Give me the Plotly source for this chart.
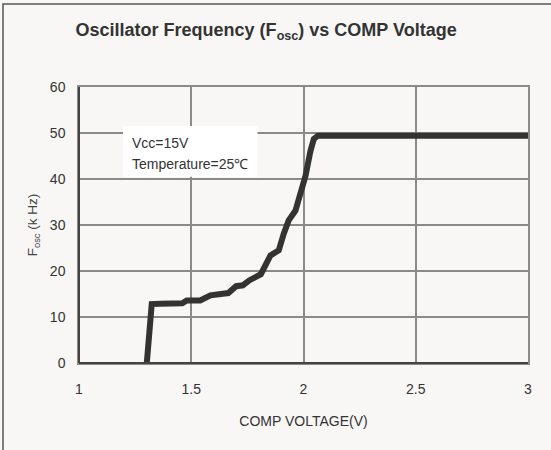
import plotly.graph_objects as go

comp_voltage = [1.302, 1.312, 1.320, 1.324, 1.36, 1.40, 1.46, 1.48, 1.54, 1.585, 1.615, 1.665,
                1.70, 1.73, 1.76, 1.81, 1.853, 1.89, 1.912, 1.934, 1.964, 1.987, 2.009,
                2.031, 2.046, 2.064, 3.0]
fosc_khz = [0.0, 6.5, 12.5, 12.8, 12.9, 13.0, 13.0, 13.6, 13.6, 14.7, 14.9, 15.2,
            16.7, 16.9, 18.0, 19.3, 23.4, 24.5, 28.1, 31.0, 33.1, 36.8, 40.7,
            46.1, 48.7, 49.4, 49.4]

x_ticks = [1, 1.5, 2, 2.5, 3]
x_tick_labels = ["1", "1.5", "2", "2.5", "3"]
y_ticks = [0, 10, 20, 30, 40, 50, 60]

title_text = "Oscillator Frequency (F<sub>osc</sub>) vs COMP Voltage"
x_title = "COMP VOLTAGE(V)"
y_title = "F<sub>osc</sub> (k Hz)"
note_lines = ["Vcc=15V", "Temperature=25℃"]

FONT = "Liberation Sans, Arial, sans-serif"
TXT = "#333333"
BG = "#f8f7f5"

fig = go.Figure()
fig.add_trace(go.Scatter(x=comp_voltage, y=fosc_khz, mode="lines",
                         line=dict(color="#333333", width=6), showlegend=False,
                         hoverinfo="skip"))

fig.update_layout(
    width=551, height=450,
    margin=dict(l=79, r=23, t=87, b=87),
    paper_bgcolor=BG, plot_bgcolor=BG,
    font=dict(family=FONT, color=TXT, size=13),
    title=dict(text=title_text, x=0.483, xref="container", xanchor="center",
               y=1 - 30 / 450, yref="container", yanchor="middle",
               font=dict(family=FONT, size=18, color=TXT, weight="bold")),
    xaxis=dict(range=[1, 3], tickvals=x_ticks, ticktext=x_tick_labels,
               showgrid=True, gridcolor="#8a8a8a", gridwidth=1.5,
               showline=True, mirror=True, linecolor="#8a8a8a", linewidth=1.5,
               zeroline=False, ticks="", ticklabelstandoff=12,
               tickfont=dict(size=14, color=TXT),
               title=dict(text=x_title, font=dict(size=14, color=TXT), standoff=21)),
    yaxis=dict(range=[0, 60], tickvals=y_ticks,
               showgrid=True, gridcolor="#8a8a8a", gridwidth=1.5,
               showline=True, mirror=True, linecolor="#8a8a8a", linewidth=1.5,
               zeroline=False, ticks="", ticklabelstandoff=9,
               tickfont=dict(size=14, color=TXT),
               title=dict(text=y_title, font=dict(size=13.5, color="#444444"), standoff=9)),
)

# darker left and bottom axis lines
fig.add_shape(type="line", xref="paper", yref="paper", x0=0, x1=0, y0=0, y1=1,
              line=dict(color="#444444", width=2))
fig.add_shape(type="line", xref="paper", yref="paper", x0=0, x1=1, y0=0, y1=0,
              line=dict(color="#444444", width=2))

# white note box
fig.add_shape(type="rect", xref="x", yref="y", x0=1.196, x1=1.795, y0=40.5, y1=51.5,
              fillcolor="white", line=dict(width=0), layer="above")
fig.add_annotation(x=1.228, y=47.9, xref="x", yref="y", text=note_lines[0],
                   showarrow=False, xanchor="left", yanchor="middle",
                   font=dict(size=14, color=TXT, family=FONT))
fig.add_annotation(x=1.228, y=43.3, xref="x", yref="y", text=note_lines[1],
                   showarrow=False, xanchor="left", yanchor="middle",
                   font=dict(size=14, color=TXT, family=FONT))

# outer frame (left and top visible)
fig.add_shape(type="rect", xref="paper", yref="paper",
              x0=(3 - 79) / 449, x1=(600 - 79) / 449,
              y0=(363 - 500) / 276, y1=(363 - 4) / 276,
              line=dict(color="#555555", width=1.5), fillcolor="rgba(0,0,0,0)")

fig.write_html("out.html", config={"displayModeBar": False},
               post_script="document.body.style.margin='0';document.body.style.background='%s';" % BG)
